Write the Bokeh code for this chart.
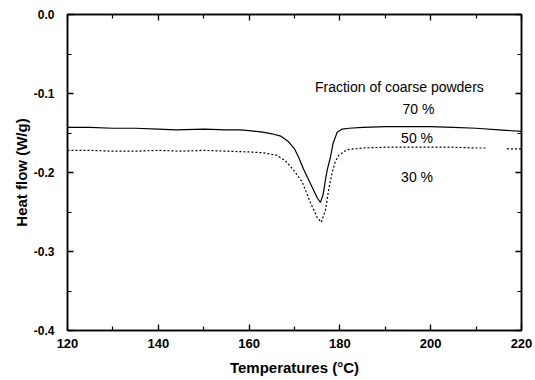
from bokeh.plotting import figure
from bokeh.models import FixedTicker, LinearAxis, PrintfTickFormatter, Label, CustomJSTickFormatter
from bokeh.embed import file_html
from bokeh.resources import INLINE

# Temperatures (deg C) and heat flow (W/g)
temp_70 = [120, 125, 130, 135, 140, 144, 150, 155, 158, 160, 163, 165, 167, 168.5, 170, 171, 172,
           173, 174, 175, 175.7, 176.3, 176.8, 177.2, 177.9, 178.5, 179.4, 180.5, 182, 185, 190,
           195, 200, 205, 210, 215, 220]
flow_70 = [-0.143, -0.143, -0.144, -0.144, -0.145, -0.146, -0.145, -0.146, -0.146, -0.147, -0.149,
           -0.151, -0.154, -0.160, -0.170, -0.182, -0.196, -0.208, -0.220, -0.232, -0.238, -0.228,
           -0.210, -0.197, -0.181, -0.163, -0.149, -0.145, -0.144, -0.143, -0.142, -0.142, -0.142,
           -0.143, -0.144, -0.146, -0.148]

temp_30 = [120, 125, 130, 135, 140, 145, 150, 155, 160, 163, 166, 168, 169.8, 171.7, 173.5, 175,
           175.9, 176.8, 177.6, 178.3, 179, 179.8, 181.6, 185, 190, 195, 200, 205, 210, 212.4,
           214.5, 216.8, 220]
flow_30 = [-0.172, -0.172, -0.173, -0.173, -0.172, -0.173, -0.172, -0.173, -0.174, -0.175, -0.178,
           -0.185, -0.197, -0.212, -0.238, -0.257, -0.263, -0.248, -0.219, -0.200, -0.186, -0.178,
           -0.171, -0.169, -0.168, -0.168, -0.168, -0.168, -0.169, -0.169, float("nan"), -0.170,
           -0.170]

x_ticks = [120, 140, 160, 180, 200, 220]
x_minor = [130, 150, 170, 190, 210]
y_ticks = [-0.4, -0.3, -0.2, -0.1, 0.0]
y_minor = [-0.35, -0.25, -0.15, -0.05]

annotations = ["Fraction of coarse powders", "70 %", "50 %", "30 %"]

FONT = "Liberation Sans"

p = figure(width=535, height=380, x_range=(120, 220), y_range=(-0.4, 0.0),
           output_backend="svg", toolbar_location=None,
           min_border_left=67, min_border_right=14, min_border_top=14, min_border_bottom=50,
           x_axis_label="Temperatures (°C)", y_axis_label="Heat flow (W/g)")
p.xgrid.visible = False
p.ygrid.visible = False
p.outline_line_color = "black"
p.outline_line_width = 1.5
p.background_fill_color = "white"
p.border_fill_color = "white"

p.line(temp_70, flow_70, line_color="black", line_width=1.2)
p.line(temp_30, flow_30, line_color="black", line_width=1.2, line_dash="2 2")

def style(ax, ticker, show_labels):
    ax.ticker = ticker
    ax.axis_line_color = "black"
    ax.axis_line_width = 1.5
    ax.major_tick_in = 6
    ax.major_tick_out = 0
    ax.minor_tick_in = 4
    ax.minor_tick_out = 0
    ax.major_tick_line_width = 1.3
    ax.minor_tick_line_width = 1.2
    if show_labels:
        ax.major_label_text_font = FONT
        ax.major_label_text_font_size = "13px"
        ax.major_label_text_font_style = "bold"
        ax.major_label_text_color = "black"
        ax.axis_label_text_font = FONT
        ax.axis_label_text_font_size = "15px"
        ax.axis_label_text_font_style = "bold"
        ax.axis_label_text_color = "black"
    else:
        ax.formatter = CustomJSTickFormatter(code="return ''")
        ax.major_label_standoff = 0

style(p.xaxis[0], FixedTicker(ticks=x_ticks, minor_ticks=x_minor), True)
style(p.yaxis[0], FixedTicker(ticks=y_ticks, minor_ticks=y_minor), True)
p.xaxis[0].major_label_standoff = 8
p.yaxis[0].major_label_standoff = 13
p.yaxis[0].major_label_text_font_size = "12px"
p.yaxis[0].formatter = PrintfTickFormatter(format="%.1f")
p.xaxis[0].axis_label_standoff = 8
p.yaxis[0].axis_label_standoff = 1

top = LinearAxis()
style(top, FixedTicker(ticks=x_ticks, minor_ticks=x_minor), False)
p.add_layout(top, "above")
right = LinearAxis()
style(right, FixedTicker(ticks=y_ticks, minor_ticks=y_minor), False)
p.add_layout(right, "right")

label_pos = [(193.1, -0.0924), (197.3, -0.119), (197.0, -0.156), (197.0, -0.206)]
for txt, (lx, ly) in zip(annotations, label_pos):
    p.add_layout(Label(x=lx, y=ly, text=txt, text_align="center", text_baseline="middle",
                       text_font=FONT, text_font_size="14px", text_color="black"))

open("out.html", "w").write(file_html(p, INLINE))
